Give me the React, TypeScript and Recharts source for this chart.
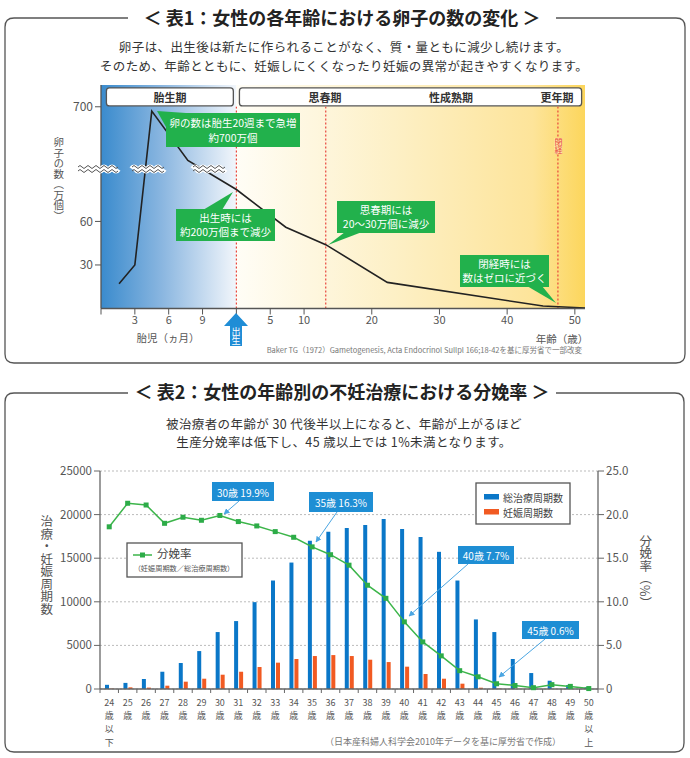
import React from "react";
import {
  ComposedChart,
  LineChart,
  Line,
  Bar,
  XAxis,
  YAxis,
  CartesianGrid,
  ReferenceArea,
  ReferenceLine,
} from "recharts";

const FONT = '"Noto Sans CJK JP", "Noto Sans", sans-serif';

// ---- 表1: 卵子の数 (縦軸は波線で省略された模式図の目盛り) ----
const fetalMonths = [1.6, 3, 4.5, 7.7];
const fetalEggs = [17, 30, 136, 102];
const lifeAges = [0, 7.3, 13.2, 22.3, 45.3, 51.5];
const lifeEggs = [82, 56, 44, 18, 1.7, 0.3];
const eggTicks = [30, 60, 139];
const eggTickLabels = ["30", "60", "700"];
const monthTicks = [3, 6, 9];
const yearTicks = [5, 10, 20, 30, 40, 50];
const milestoneAges = [0, 13.2, 47.5]; // 出生, 思春期, 閉経

// on this axis 3 fetal months take the room of 5 years
const fetalToAxis = (m: number) => ((m - 12) * 5) / 3;

const eggData = [
  ...fetalMonths.map((m, i) => ({ x: fetalToAxis(m), eggs: fetalEggs[i] })),
  ...lifeAges.map((a, i) => ({ x: a, eggs: lifeEggs[i] })),
];
const xTicks = [-20, ...monthTicks.map(fetalToAxis), 0, ...yearTicks];
const xTickLabel = (v: number) => {
  if (v > 0) return String(v);
  const m = Math.round((v * 3) / 5 + 12);
  return monthTicks.includes(m) ? String(m) : "";
};

// ---- 表2: 年齢別 ----
const ageLabels = [
  "24", "25", "26", "27", "28", "29", "30", "31", "32", "33", "34", "35", "36", "37",
  "38", "39", "40", "41", "42", "43", "44", "45", "46", "47", "48", "49", "50",
];
const totalCycles = [
  480, 700, 1150, 1980, 2980, 4350, 6530, 7790, 9960, 12440, 14500, 16990, 18020, 18470,
  18820, 19500, 18360, 17440, 15730, 12440, 7980, 6530, 3430, 1830, 950, 450, 200,
];
const pregnancyCycles = [
  40, 190, 160, 380, 840, 1180, 1640, 1980, 2520, 3020, 3440, 3780, 3890, 3780,
  3360, 3090, 2560, 1720, 1180, 610, 150, 50, 20, 10, 10, 5, 0,
];
const deliveryRate = [
  18.6, 21.3, 21.1, 19.0, 19.7, 19.35, 19.9, 19.2, 18.7, 18.05, 17.4, 16.3, 15.4, 14.2,
  11.9, 10.4, 7.7, 5.4, 3.8, 2.1, 1.4, 0.6, 0.4, 0.15, 0.5, 0.3, 0.05,
];
const countTicks = [0, 5000, 10000, 15000, 20000, 25000];
const rateTicks = [0, 5, 10, 15, 20, 25];

const cycleData = ageLabels.map((age, i) => ({
  age,
  total: totalCycles[i],
  preg: pregnancyCycles[i],
  rate: deliveryRate[i],
}));

const Txt = ({ x, y, size = 12, color = "#333", weight = 400, align = "center", vertical = false, lh = 1.3, ls, bg, children }: any) => (
  <div
    style={{
      position: "absolute",
      left: x,
      top: y,
      transform:
        align === "center" ? "translate(-50%, -50%)" : align === "right" ? "translate(-100%, -50%)" : "translate(0, -50%)",
      fontSize: size,
      color,
      fontWeight: weight,
      whiteSpace: "nowrap",
      lineHeight: lh,
      letterSpacing: ls,
      textAlign: "center",
      writingMode: vertical ? "vertical-rl" : undefined,
      background: bg,
    }}
  >
    {children}
  </div>
);

// stacked tick: number, 歳, and 以下 / 以上 at the ends
const AgeTick = (props: any) => {
  const { x, y, payload, index } = props;
  const half = payload && payload.offset ? payload.offset : 9.2;
  const lines = [payload.value, "歳"];
  if (index === 0) lines.push("以", "下");
  if (index === ageLabels.length - 1) lines.push("以", "上");
  return (
    <g>
      <line x1={x - half} x2={x - half} y1={y - 8} y2={y - 4} stroke="#666" />
      {index === ageLabels.length - 1 && <line x1={x + half} x2={x + half} y1={y - 8} y2={y - 4} stroke="#666" />}
      {lines.map((l, i) => (
        <text key={i} x={x} y={y + 9 + i * 13.2} textAnchor="middle" fill="#555" fontSize={9} fontFamily={FONT}>
          {l}
        </text>
      ))}
    </g>
  );
};

const GreenSquare = (p: any) => (
  <rect key={`sq-${p.index}`} x={p.cx - 2.5} y={p.cy - 2.5} width={5} height={5} fill="#2dac48" />
);

const wave = (x0: number, y: number, w: number) => {
  let d = `M${x0},${y}`;
  for (let x = x0; x < x0 + w; x += 8) d += ` q2,-3 4,0 q2,3 4,0`;
  return d;
};

const BoxShape = (p: any) => (
  <rect x={p.x} y={p.y} width={p.width} height={p.height} rx={3} fill="#fff" stroke="#555" strokeWidth={1.3} />
);

export default function App() {
  return (
    <div style={{ position: "absolute", left: 0, top: 0, width: 690, height: 758, background: "#fff", fontFamily: FONT }}>
      {/* frames */}
      <svg width={690} height={758} style={{ position: "absolute", left: 0, top: 0 }}>
        <path d="M128,18 H14 Q5,18 5,27 V354 Q5,363 14,363 H676 Q685,363 685,354 V27 Q685,18 676,18 H556" fill="none" stroke="#555" strokeWidth={1.3} />
        <path d="M128,393 H14 Q5,393 5,402 V743 Q5,752 14,752 H675 Q684,752 684,743 V402 Q684,393 675,393 H556" fill="none" stroke="#555" strokeWidth={1.3} />
      </svg>

      {/* 表1 chart */}
      <div style={{ position: "absolute", left: 0, top: 0 }}>
        <LineChart width={690} height={370} data={eggData} margin={{ top: 85, right: 105, bottom: 31.5, left: 61 }}>
          <defs>
            <linearGradient id="fetalBg" x1="0" y1="0" x2="1" y2="0">
              <stop offset="0%" stopColor="#3a8bcd" />
              <stop offset="45%" stopColor="#8ab6e0" />
              <stop offset="100%" stopColor="#f2f6fb" />
            </linearGradient>
            <linearGradient id="adultBg" x1="0" y1="0" x2="1" y2="0">
              <stop offset="0%" stopColor="#fffdf6" />
              <stop offset="45%" stopColor="#fdf0c6" />
              <stop offset="85%" stopColor="#fde49a" />
              <stop offset="100%" stopColor="#fcd65c" />
            </linearGradient>
          </defs>
          <ReferenceArea x1={-20} x2={0} fill="url(#fetalBg)" fillOpacity={1} stroke="none" />
          <ReferenceArea x1={0} x2={51.5} fill="url(#adultBg)" fillOpacity={1} stroke="none" />
          {milestoneAges.map((a) => (
            <ReferenceLine key={a} segment={[{ x: a, y: 0 }, { x: a, y: 139 }]} stroke="#e8453c" strokeDasharray="2 2" strokeWidth={1.2} />
          ))}
          <ReferenceArea x1={-19.2} x2={-0.45} y1={139.6} y2={152} shape={BoxShape} />
          <ReferenceArea x1={0.45} x2={51} y1={139.6} y2={152} shape={BoxShape} />
          <XAxis
            type="number"
            dataKey="x"
            domain={[-20, 51.5]}
            ticks={xTicks}
            tickFormatter={xTickLabel}
            allowDataOverflow
            height={30}
            tick={{ fontSize: 11, fill: "#555" }}
            axisLine={{ stroke: "#555", strokeWidth: 1.3 }}
            tickLine={{ stroke: "#555" }}
          />
          <YAxis
            type="number"
            domain={[0, 154]}
            ticks={eggTicks}
            tickFormatter={(v: number) => eggTickLabels[eggTicks.indexOf(v)] ?? ""}
            width={40}
            tick={{ fontSize: 12, fill: "#555" }}
            axisLine={{ stroke: "#555", strokeWidth: 1.3 }}
            tickLine={{ stroke: "#555" }}
          />
          <Line type="linear" dataKey="eggs" stroke="#222" strokeWidth={1.6} dot={false} isAnimationActive={false} />
        </LineChart>
      </div>

      {/* 表2 chart */}
      <div style={{ position: "absolute", left: 0, top: 440 }}>
        <ComposedChart width={690} height={318} data={cycleData} barGap={1} margin={{ top: 31, right: 52, bottom: 19, left: 45 }}>
          <CartesianGrid yAxisId="left" vertical={false} stroke="#bbb" strokeDasharray="2 2" />
          <XAxis
            dataKey="age"
            interval={0}
            height={50}
            tick={<AgeTick />}
            tickLine={false}
            axisLine={{ stroke: "#666", strokeWidth: 1.3 }}
          />
          <YAxis
            yAxisId="left"
            domain={[0, 25000]}
            ticks={countTicks}
            width={55}
            tick={{ fontSize: 11.5, fill: "#555" }}
            axisLine={{ stroke: "#666", strokeWidth: 1.3 }}
            tickLine={{ stroke: "#666" }}
          />
          <YAxis
            yAxisId="right"
            orientation="right"
            domain={[0, 25]}
            ticks={rateTicks}
            tickFormatter={(v: number) => (v === 0 ? "0" : v.toFixed(1))}
            width={40}
            tick={{ fontSize: 11.5, fill: "#555" }}
            axisLine={{ stroke: "#666", strokeWidth: 1.3 }}
            tickLine={{ stroke: "#666" }}
          />
          <Bar yAxisId="left" dataKey="total" fill="#0a77c8" barSize={4} isAnimationActive={false} />
          <Bar yAxisId="left" dataKey="preg" fill="#f15a22" barSize={4} isAnimationActive={false} />
          <Line yAxisId="right" type="linear" dataKey="rate" stroke="#3cb54a" strokeWidth={1.5} dot={GreenSquare} isAnimationActive={false} />
        </ComposedChart>
      </div>

      {/* annotations */}
      <svg width={690} height={758} style={{ position: "absolute", left: 0, top: 0 }}>
        <defs>
          <marker id="arrowHead" viewBox="0 0 10 10" refX="9" refY="5" markerWidth="6" markerHeight="6" orient="auto">
            <path d="M0,0 L10,5 L0,10 z" fill="#4ba6e2" />
          </marker>
        </defs>
        {/* wavy breaks */}
        {[
          [78, 40],
          [132, 32],
          [193, 32],
        ].map(([x0, w], i) => (
          <g key={i}>
            <path d={wave(x0, 169, w)} fill="none" stroke="#fff" strokeWidth={6} />
            <path d={wave(x0, 167, w)} fill="none" stroke="#555" strokeWidth={1} />
            <path d={wave(x0, 171, w)} fill="none" stroke="#555" strokeWidth={1} />
          </g>
        ))}
        {/* green callouts */}
        <g fill="#22b14c">
          <polygon points="157,111 186,113 166,127" />
          <rect x={166} y={113} width={134} height={34} />
          <polygon points="233,192 203,210 222,210" />
          <rect x={176} y={209} width={99} height={32} />
          <polygon points="328,245 345,232 362,232" />
          <rect x={337} y={201} width={98} height={32} />
          <polygon points="556,303 527,286 542,286" />
          <rect x={460} y={255} width={89} height={32} />
        </g>
        {/* 出生 arrow */}
        <polygon points="236,313 248,326 242,326 242,346 230,346 230,326 224,326" fill="#1f8dd6" />
        {/* legends */}
        <rect x={127} y={543} width={115} height={34} fill="#fff" stroke="#555" strokeWidth={1.3} />
        <line x1={133} x2={152} y1={555} y2={555} stroke="#3cb54a" strokeWidth={1.5} />
        <rect x={140} y={552.5} width={5} height={5} fill="#2dac48" />
        <rect x={476} y={483} width={94} height={41} fill="#fff" stroke="#555" strokeWidth={1.3} />
        <rect x={484} y={494} width={15} height={5.5} fill="#0a77c8" />
        <rect x={484} y={509} width={15} height={5.5} fill="#f15a22" />
        {/* blue callouts */}
        <g fill="#1e8ed4">
          <rect x={212} y={482} width={62} height={19} />
          <rect x={309} y={492} width={64} height={20} />
          <rect x={458} y={546} width={56} height={18} />
          <rect x={522} y={621} width={57} height={18} />
        </g>
        <g stroke="#4ba6e2" strokeWidth={1} markerEnd="url(#arrowHead)">
          <line x1={239} y1={501} x2={224} y2={514} />
          <line x1={337} y1={512} x2={316} y2={542} />
          <line x1={468} y1={564} x2={409} y2={616} />
          <line x1={545} y1={639} x2={499} y2={677} />
        </g>
      </svg>

      {/* texts */}
      <Txt x={342} y={18} size={18} weight={700} color="#222">＜ 表1：女性の各年齢における卵子の数の変化 ＞</Txt>
      <Txt x={344} y={47} size={12.5} color="#333" lh={1} ls="0.4px">卵子は、出生後は新たに作られることがなく、質・量ともに減少し続けます。</Txt>
      <Txt x={344} y={65.5} size={12.5} color="#333" lh={1} ls="0.4px">そのため、年齢とともに、妊娠しにくくなったり妊娠の異常が起きやすくなります。</Txt>

      <Txt x={170} y={97} size={11} weight={700} color="#333">胎生期</Txt>
      <Txt x={325} y={97} size={11} weight={700} color="#333">思春期</Txt>
      <Txt x={451} y={97} size={11} weight={700} color="#333">性成熟期</Txt>
      <Txt x={557} y={97} size={11} weight={700} color="#333">更年期</Txt>
      <Txt x={558} y={146} size={8} color="#e8453c" vertical bg="#fde7a2" lh={1}>閉経</Txt>

      <Txt x={233} y={131} size={10.5} color="#fff" lh={1.4}>卵の数は胎生20週まで急増<br />約700万個</Txt>
      <Txt x={225.5} y={225} size={10.5} color="#fff" lh={1.35}>出生時には<br />約200万個まで減少</Txt>
      <Txt x={386} y={217} size={10.5} color="#fff" lh={1.35}>思春期には<br />20〜30万個に減少</Txt>
      <Txt x={504.5} y={271} size={10.5} color="#fff" lh={1.35}>閉経時には<br />数はゼロに近づく</Txt>
      <Txt x={236} y={336} size={9} color="#fff" vertical lh={1}>出生</Txt>

      <Txt x={58} y={179} size={10.5} color="#555" vertical lh={1}>卵子の数（万個）</Txt>
      <Txt x={168} y={338} size={10.5} color="#555" lh={1}>胎児（ヵ月）</Txt>
      <Txt x={562} y={339} size={10.5} color="#555" lh={1}>年齢（歳）</Txt>
      <Txt x={582} y={350} size={7.5} color="#777" align="right" lh={1}>Baker TG（1972）Gametogenesis, Acta Endocrinol Sullpl 166;18-42を基に厚労省で一部改変</Txt>

      <Txt x={342} y={392} size={18} weight={700} color="#222">＜ 表2：女性の年齢別の不妊治療における分娩率 ＞</Txt>
      <Txt x={344} y={423.5} size={12.5} color="#333" lh={1} ls="0.4px">被治療者の年齢が 30 代後半以上になると、年齢が上がるほど</Txt>
      <Txt x={344} y={442} size={12.5} color="#333" lh={1} ls="0.4px">生産分娩率は低下し、45 歳以上では 1%未満となります。</Txt>

      <Txt x={46} y={565} size={12.5} color="#555" vertical lh={1}>治療・妊娠周期数</Txt>
      <Txt x={645} y={572} size={12.5} color="#555" vertical lh={1}>分娩率（%）</Txt>

      <Txt x={157} y={554} size={11.5} color="#444" align="left" lh={1}>分娩率</Txt>
      <Txt x={184} y={568.5} size={7.2} color="#555" lh={1}>（妊娠周期数／総治療周期数）</Txt>
      <Txt x={503} y={497} size={10} color="#444" align="left">総治療周期数</Txt>
      <Txt x={503} y={512} size={10} color="#444" align="left">妊娠周期数</Txt>

      <Txt x={243} y={491.5} size={10} color="#fff">30歳 19.9%</Txt>
      <Txt x={341} y={502} size={10} color="#fff">35歳 16.3%</Txt>
      <Txt x={486} y={555} size={10} color="#fff">40歳 7.7%</Txt>
      <Txt x={550.5} y={630} size={10} color="#fff">45歳 0.6%</Txt>

      <Txt x={443} y={742} size={9} color="#777">（日本産科婦人科学会2010年データを基に厚労省で作成）</Txt>
    </div>
  );
}
